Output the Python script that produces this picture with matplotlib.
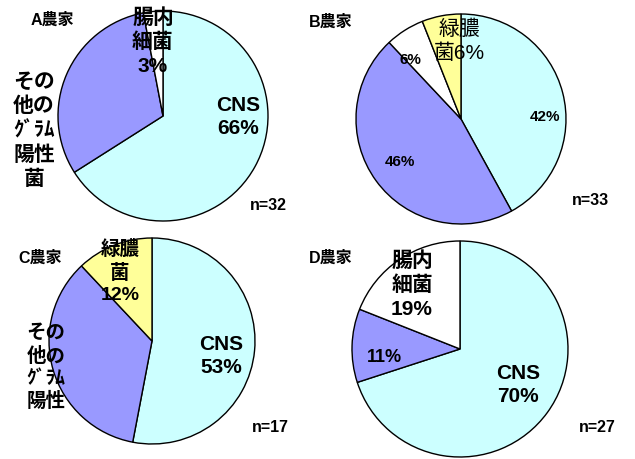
import matplotlib
matplotlib.use("Agg")
import matplotlib.pyplot as plt

plt.rcParams['font.family'] = ['Liberation Sans', 'Noto Sans CJK JP']

W, H = 635, 459

CYAN = '#CCFFFF'
PURPLE = '#9999FF'
WHITE = '#FFFFFF'
YELLOW = '#FFFF99'

# shares (%) clockwise from 12 o'clock
farm_names = ['A農家', 'B農家', 'C農家', 'D農家']
a_values = [66, 31, 3]
a_colors = [CYAN, PURPLE, WHITE]
b_values = [42, 46, 6, 6]
b_colors = [CYAN, PURPLE, WHITE, YELLOW]
c_values = [53, 35, 12]
c_colors = [CYAN, PURPLE, YELLOW]
d_values = [70, 11, 19]
d_colors = [CYAN, PURPLE, WHITE]
n_counts = [32, 33, 17, 27]

# pie centre and radius in pixels
pie_boxes = [(163, 116, 105), (461, 119, 105), (152, 341, 103), (460, 349, 108)]
name_pos = [(52, 20), (331, 22), (40, 258), (331, 258)]
n_pos = [(268, 205), (590, 200), (270, 428), (597, 428)]

fig = plt.figure(figsize=(W / 100, H / 100), dpi=100)


def fx(x):
    return x / W


def fy(y):
    return 1 - y / H


def draw_pie(values, colors, box):
    cx, cy, r = box
    ax = fig.add_axes([fx(cx - r), fy(cy + r), 2 * r / W, 2 * r / H])
    ax.pie(values, colors=colors, startangle=90, counterclock=False,
           wedgeprops=dict(edgecolor='black', linewidth=1.0))
    ax.set_xlim(-1, 1)
    ax.set_ylim(-1, 1)
    ax.set_aspect('auto')
    ax.axis('off')


def label(x, y, s, size=15, weight='bold', ha='center'):
    fig.text(fx(x), fy(y), s, fontsize=size, fontweight=weight,
             ha=ha, va='center', linespacing=1.3, zorder=10)


for vals, cols, box in zip([a_values, b_values, c_values, d_values],
                           [a_colors, b_colors, c_colors, d_colors], pie_boxes):
    draw_pie(vals, cols, box)

for name, (x, y) in zip(farm_names, name_pos):
    fig.text(fx(x), fy(y), name, fontsize=11.5, fontweight='bold',
             ha='center', va='center')

for n, (x, y) in zip(n_counts, n_pos):
    fig.text(fx(x), fy(y), f'n={n}', fontsize=11.5, fontweight='bold',
             ha='center', va='center')

# A
label(153, 42, f'腸内\n細菌\n{a_values[2]}%')
label(238, 117, f'CNS\n{a_values[0]}%')
label(34, 131, 'その\n他の\nｸﾞﾗﾑ\n陽性\n菌')
# B
label(459, 41, f'緑膿\n菌{b_values[3]}%', weight='normal')
label(410, 60, f'{b_values[2]}%', size=11)
label(545, 117, f'{b_values[0]}%', size=11)
label(400, 162, f'{b_values[1]}%', size=11)
# C
label(120, 272, f'緑膿\n菌\n{c_values[2]}%', size=14)
label(221, 356, f'CNS\n{c_values[0]}%')
label(46, 368, 'その\n他の\nｸﾞﾗﾑ\n陽性', size=14)
# D
label(412, 285, f'腸内\n細菌\n{d_values[2]}%')
label(384, 357, f'{d_values[1]}%', size=13)
label(518, 385, f'CNS\n{d_values[0]}%')

fig.savefig('out.png', dpi=100)
